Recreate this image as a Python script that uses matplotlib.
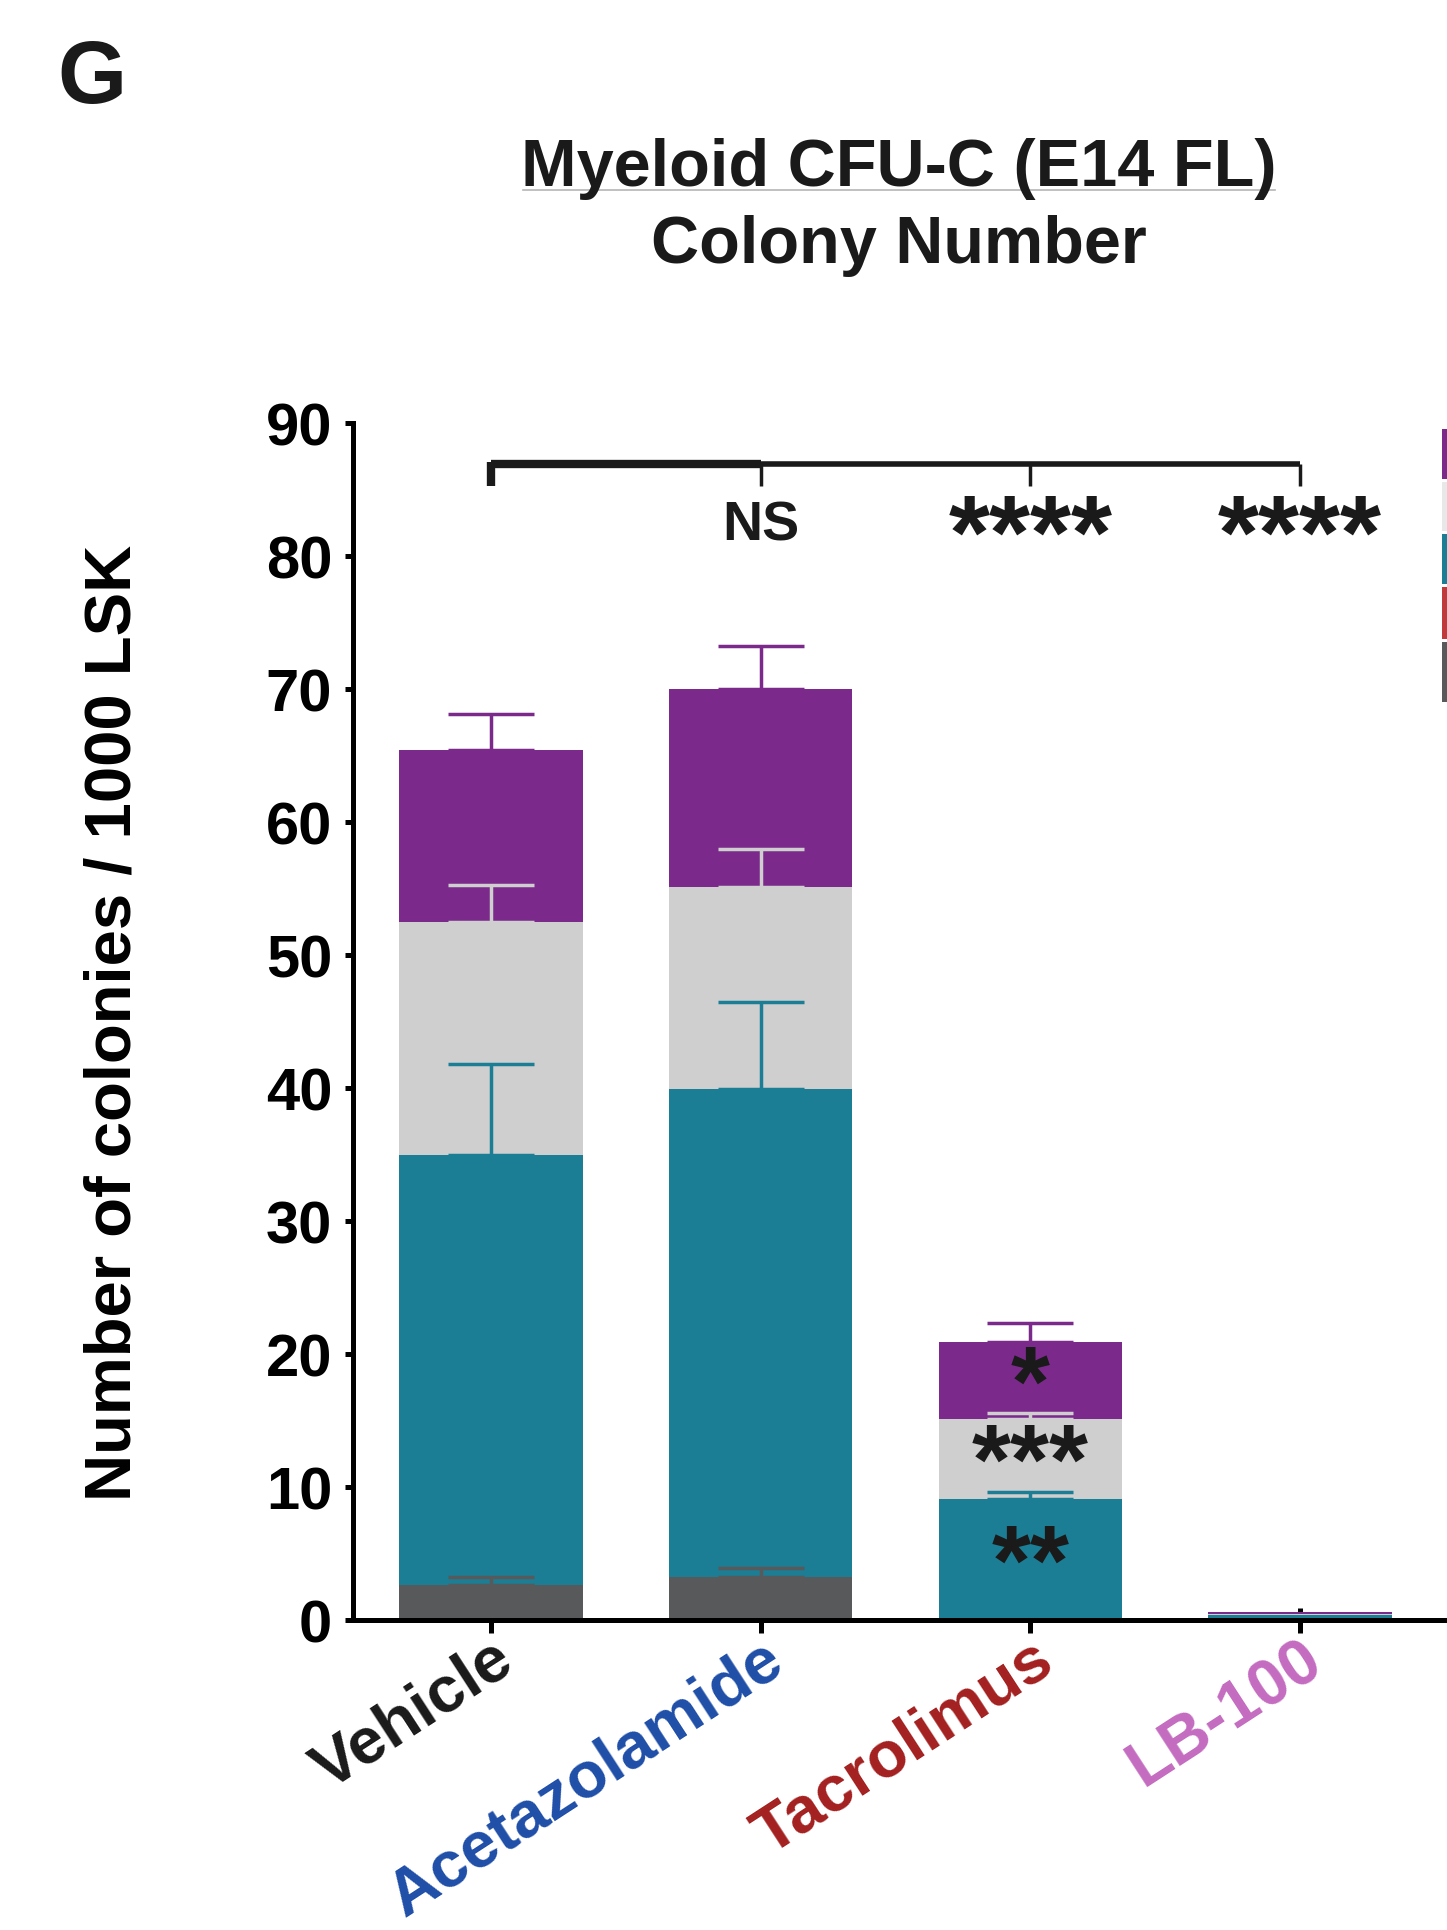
import matplotlib
matplotlib.use("Agg")
import matplotlib.pyplot as plt
from matplotlib.patches import Rectangle
import numpy as np

plt.rcParams['font.family'] = ['Liberation Sans', 'DejaVu Sans']
plt.rcParams['font.weight'] = 'bold'

# data
groups = ['Vehicle', 'Acetazolamide', 'Tacrolimus', 'LB-100']
group_colors = ['#1a1a1a', '#1f4ea8', '#a3201f', '#c46cc0']

# stacked segments, bottom -> top
seg_names = ['gray', 'teal', 'lightgray', 'purple']
seg_colors = ['#58595b', '#1b7e95', '#cfcfcf', '#7b2a8c']
gray_mean = [2.6, 3.2, 0.0, 0.0]
teal_mean = [32.4, 36.7, 9.1, 0.4]
lgray_mean = [17.5, 15.2, 6.0, 0.05]
purple_mean = [12.9, 14.9, 5.8, 0.15]
gray_err = [0.65, 0.7, 0.0, 0.0]
teal_err = [6.8, 6.6, 0.55, 0.0]
lgray_err = [2.8, 2.9, 0.5, 0.0]
purple_err = [2.7, 3.2, 1.4, 0.0]

means = [gray_mean, teal_mean, lgray_mean, purple_mean]
errs = [gray_err, teal_err, lgray_err, purple_err]

# significance labels
top_sig = ['', 'NS', '****', '****']
tac_sig = ['**', '***', '*']   # teal, light gray, purple in Tacrolimus bar

W, H = 1447, 1931
fig = plt.figure(figsize=(W / 100, H / 100), dpi=100)
ax = fig.add_axes([353 / W, (H - 1621) / H, 1 - 353 / W, (1621 - 424) / H])

x = np.arange(len(groups))
bottom = np.zeros(len(groups))
tops = []
for m, c in zip(means, seg_colors):
    ax.bar(x, m, width=0.68, bottom=bottom, color=c, edgecolor='none', zorder=2)
    bottom = bottom + np.array(m)
    tops.append(bottom.copy())

for t, e, c in zip(tops, errs, seg_colors):
    e = np.array(e)
    k = e > 0
    ax.errorbar(x[k], t[k], yerr=[np.zeros(k.sum()), e[k]], fmt='none', ecolor=c,
                elinewidth=2.5, capsize=31, capthick=2.5, zorder=4)

ax.set_xlim(-0.512, 3.545)
ax.set_ylim(0, 90)
ax.set_yticks(np.arange(0, 91, 10))
ax.set_xticks(x)
ax.set_xticklabels([])
ax.spines['top'].set_visible(False)
ax.spines['right'].set_visible(False)
ax.spines['left'].set_bounds(0, 90)
for s in ['left', 'bottom']:
    ax.spines[s].set_linewidth(3.6)
ax.tick_params(axis='y', direction='out', length=6, width=3.6, pad=9, labelsize=43)
ax.tick_params(axis='x', direction='inout', length=18, width=3.6)
for lab in ax.get_yticklabels():
    lab.set_fontweight('bold')

ax.set_ylabel('Number of colonies / 1000 LSK', fontsize=47, fontweight='bold', labelpad=88)

# rotated colored category labels
for i, (g, c) in enumerate(zip(groups, group_colors)):
    ax.annotate(g, xy=(i, 0), xycoords=('data', 'axes fraction'), xytext=(12, -24),
                textcoords='offset points', rotation=33, rotation_mode='anchor',
                ha='right', va='center', fontsize=47, fontweight='bold', color=c,
                annotation_clip=False)

# comparison bracket
ax.plot([0, 1], [86.9, 86.9], color='#1a1a1a', lw=6, solid_capstyle='butt', zorder=5)
ax.plot([1, 3], [86.9, 86.9], color='#1a1a1a', lw=4, solid_capstyle='butt', zorder=5)
ax.plot([0, 0], [87.1, 85.3], color='#1a1a1a', lw=6, solid_capstyle='butt', zorder=5)
for i in [1, 2, 3]:
    ax.plot([i, i], [86.9, 85.3], color='#1a1a1a', lw=2.5, solid_capstyle='butt', zorder=5)
for i, s in enumerate(top_sig):
    if s == 'NS':
        ax.text(i, 82.3, s, ha='center', va='center', fontsize=40, fontweight='bold', color='#1a1a1a')
    elif s:
        ax.text(i, 81.2, s, ha='center', va='center', fontsize=76, fontweight='bold', color='#1a1a1a')

tac = 2
ys = [tops[0][tac] + teal_mean[tac] / 2, tops[1][tac] + lgray_mean[tac] / 2,
      tops[2][tac] + purple_mean[tac] / 2]
for y, s in zip(ys, tac_sig):
    ax.text(tac, y - 0.6, s, ha='center', va='center', fontsize=72, fontweight='bold',
            color='#1a1a1a', zorder=6)

# title and panel letter
fig.text(899 / W, 1 - 169 / H, 'Myeloid CFU-C (E14 FL)', ha='center', va='center',
         fontsize=48, fontweight='bold', color='#1a1a1a')
fig.text(899 / W, 1 - 246 / H, 'Colony Number', ha='center', va='center',
         fontsize=48, fontweight='bold', color='#1a1a1a')
fig.add_artist(plt.Line2D([523 / W, 1275 / W], [1 - 191 / H, 1 - 191 / H], color='#b5b5b5', lw=1.2))
fig.text(92 / W, 1 - 80 / H, 'G', ha='center', va='center', fontsize=64, fontweight='bold',
         color='#1a1a1a')

# legend swatches cut off at the right edge
leg_colors = ['#7b2a8c', '#e8e8e8', '#1b7e95', '#c0393b', '#58595b']
leg_top = [430, 483, 535, 588, 643]
leg_bot = [480, 532, 585, 640, 703]
for c, t, b in zip(leg_colors, leg_top, leg_bot):
    fig.add_artist(Rectangle((1442 / W, 1 - b / H), 5 / W, (b - t) / H, transform=fig.transFigure,
                             facecolor=c, edgecolor='none'))

fig.savefig('out.png', dpi=100)
